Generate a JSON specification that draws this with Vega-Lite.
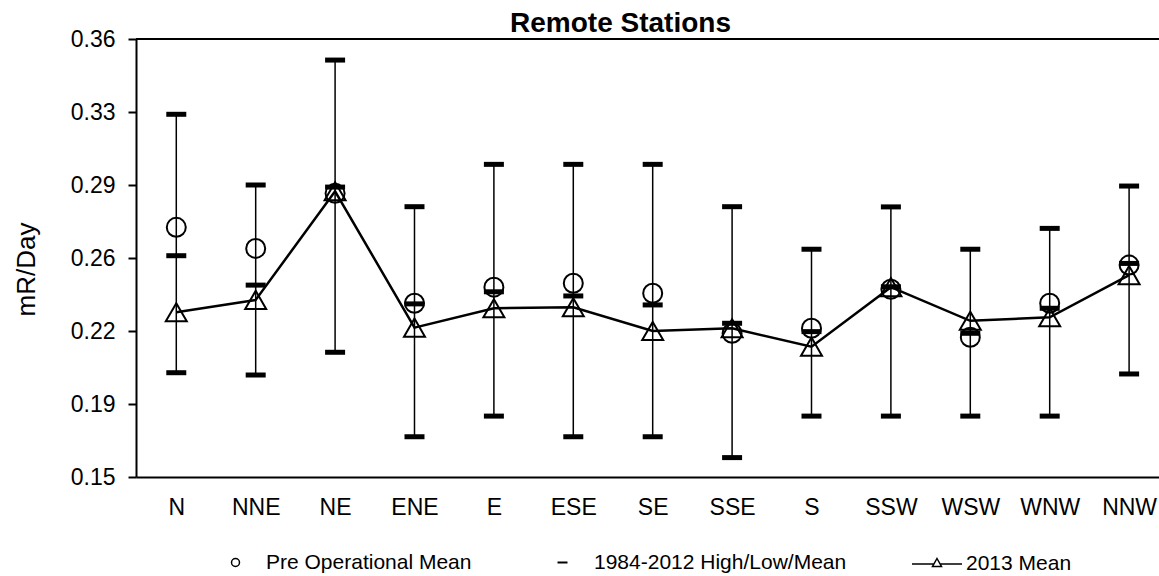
{
  "$schema": "https://vega.github.io/schema/vega-lite/v6.json",
  "autosize": {"type": "none"},
  "padding": {"left": 136, "top": 39, "right": 0, "bottom": 99},
  "width": 1023,
  "height": 438,
  "background": "white",
  "title": {"text": "Remote Stations", "font": "Liberation Sans", "fontSize": 28, "fontWeight": "bold", "color": "black", "anchor": "middle", "dx": -27, "offset": 6, "dy": 16},
  "config": {
    "view": {"stroke": null},
    "axis": {"labelFont": "Liberation Sans", "titleFont": "Liberation Sans", "labelColor": "black", "titleColor": "black", "domainColor": "black", "tickColor": "black", "grid": false},
    "legend": {"labelFont": "Liberation Sans", "labelFontSize": 21, "labelColor": "black", "padding": 0, "orient": "none", "title": null, "labelLimit": 400}
  },
  "data": {"values": [
    {"dir": "N", "pre": 0.2697, "low": 0.2000, "mean": 0.2561, "high": 0.3239, "y13": 0.2290},
    {"dir": "NNE", "pre": 0.2596, "low": 0.1989, "mean": 0.2420, "high": 0.2900, "y13": 0.2349},
    {"dir": "NE", "pre": 0.2860, "low": 0.2098, "mean": 0.2890, "high": 0.3499, "y13": 0.2870},
    {"dir": "ENE", "pre": 0.2333, "low": 0.1693, "mean": 0.2330, "high": 0.2796, "y13": 0.2216},
    {"dir": "E", "pre": 0.2410, "low": 0.1792, "mean": 0.2388, "high": 0.2999, "y13": 0.2309},
    {"dir": "ESE", "pre": 0.2429, "low": 0.1693, "mean": 0.2368, "high": 0.2999, "y13": 0.2314},
    {"dir": "SE", "pre": 0.2381, "low": 0.1693, "mean": 0.2325, "high": 0.2999, "y13": 0.2200},
    {"dir": "SSE", "pre": 0.2189, "low": 0.1593, "mean": 0.2237, "high": 0.2796, "y13": 0.2213},
    {"dir": "S", "pre": 0.2213, "low": 0.1792, "mean": 0.2197, "high": 0.2592, "y13": 0.2125},
    {"dir": "SSW", "pre": 0.2400, "low": 0.1792, "mean": 0.2412, "high": 0.2795, "y13": 0.2410},
    {"dir": "WSW", "pre": 0.2170, "low": 0.1792, "mean": 0.2189, "high": 0.2592, "y13": 0.2249},
    {"dir": "WNW", "pre": 0.2333, "low": 0.1792, "mean": 0.2309, "high": 0.2692, "y13": 0.2266},
    {"dir": "NNW", "pre": 0.2516, "low": 0.1994, "mean": 0.2524, "high": 0.2895, "y13": 0.2468}
  ]},
  "encoding": {
    "x": {
      "field": "dir", "type": "nominal",
      "sort": ["N","NNE","NE","ENE","E","ESE","SE","SSE","S","SSW","WSW","WNW","NNW"],
      "scale": {"type": "point", "padding": 0.442, "align": 0.574},
      "axis": {"title": null, "labelAngle": 0, "labelFontSize": 23, "labelPadding": 19, "tickSize": 0, "domainWidth": 2}
    }
  },
  "layer": [
    {
      "mark": {"type": "rule", "color": "black", "strokeWidth": 2},
      "encoding": {
        "x": null,
        "y": {"datum": 0.36, "type": "quantitative"}
      }
    },
    {
      "mark": {"type": "rule", "color": "black", "strokeWidth": 1.5},
      "encoding": {
        "y": {
          "field": "low", "type": "quantitative",
          "scale": {"domain": [0.15, 0.36], "nice": false, "zero": false},
          "axis": {
            "title": "mR/Day", "titleFontSize": 26, "titleFontWeight": "normal",
            "titleX": -110, "titleY": 230, "titleAngle": -90, "titleAlign": "center", "titleBaseline": "middle",
            "values": [0.15, 0.185, 0.22, 0.255, 0.29, 0.325, 0.36],
            "labelExpr": "format(datum.value + 0.000001, '.2f')",
            "labelFontSize": 23, "labelPadding": 13, "tickSize": 8, "tickWidth": 2, "domainWidth": 2
          }
        },
        "y2": {"field": "high"}
      }
    },
    {
      "mark": {"type": "tick", "thickness": 5, "size": 20, "opacity": 1},
      "encoding": {
        "y": {"field": "low", "type": "quantitative"},
        "color": {"datum": "1984-2012 High/Low/Mean", "scale": {"domain": ["1984-2012 High/Low/Mean"], "range": ["black"]},
          "legend": {"legendX": 416, "legendY": 513, "symbolType": "M-1,-0.2H1V0.2H-1Z", "symbolSize": 100, "symbolFillColor": "black", "symbolStrokeWidth": 0, "labelOffset": 21,
            "encode": {"symbols": {"update": {"shape": {"value": "M-1,-0.2H1V0.2H-1Z"}, "size": {"value": 100}, "fill": {"value": "black"}, "stroke": {"value": "transparent"}, "strokeWidth": {"value": 0}, "opacity": {"value": 1}, "fillOpacity": {"value": 1}}}}}}
      }
    },
    {
      "mark": {"type": "tick", "thickness": 5, "size": 20, "color": "black", "opacity": 1},
      "encoding": {"y": {"field": "high", "type": "quantitative"}}
    },
    {
      "mark": {"type": "tick", "thickness": 5, "size": 20, "color": "black", "opacity": 1},
      "encoding": {"y": {"field": "mean", "type": "quantitative"}}
    },
    {
      "mark": {"type": "line", "strokeWidth": 2.5},
      "encoding": {
        "y": {"field": "y13", "type": "quantitative"},
        "stroke": {"datum": "2013 Mean", "scale": {"domain": ["2013 Mean"], "range": ["black"]},
          "legend": {"legendX": 775, "legendY": 499, "symbolType": "M-1,0H-0.124M0.124,0H1M0,-0.22L0.18,0.1L-0.18,0.1Z", "symbolSize": 2500, "symbolStrokeWidth": 1.5, "labelOffset": 3,
            "encode": {"symbols": {"update": {"stroke": {"value": "black"}, "strokeWidth": {"value": 1.5}, "fill": {"value": "transparent"}}}}}}
      }
    },
    {
      "mark": {"type": "point", "shape": "triangle-up", "filled": false, "color": "black", "size": 440, "strokeWidth": 2, "opacity": 1},
      "encoding": {"y": {"field": "y13", "type": "quantitative"}}
    },
    {
      "mark": {"type": "point", "filled": false, "color": "black", "size": 361, "strokeWidth": 2, "opacity": 1},
      "encoding": {
        "y": {"field": "pre", "type": "quantitative"},
        "shape": {"datum": "Pre Operational Mean", "scale": {"domain": ["Pre Operational Mean"], "range": ["circle"]},
          "legend": {"legendX": 89, "legendY": 513, "symbolSize": 64, "symbolStrokeWidth": 1.5, "labelOffset": 20,
            "encode": {"symbols": {"update": {"stroke": {"value": "black"}, "strokeWidth": {"value": 1.5}, "fill": {"value": "transparent"}, "opacity": {"value": 1}}}}}}
      }
    }
  ]
}
